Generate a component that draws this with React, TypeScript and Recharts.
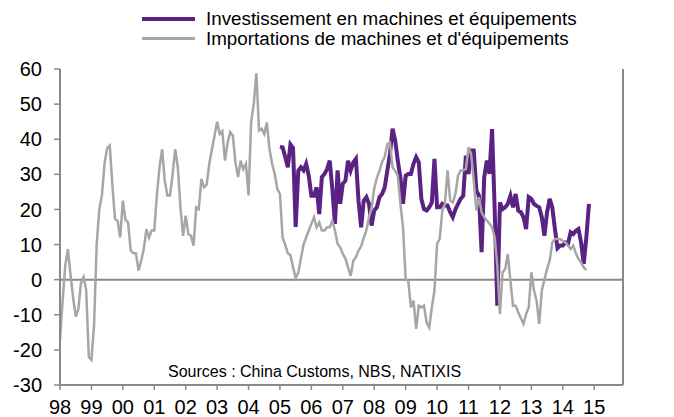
import { LineChart, Line, XAxis, YAxis, ReferenceLine } from 'recharts'

// monthly, starting Jan 1998
const importations = [
  -17, -6, 4, 8.7, 1.6, -5, -10.5, -8.5, -1, 0.7, -3, -22,
  -22.8, -13, 10, 20, 24, 33, 37.5, 38.2, 27, 17.3, 16.8, 12,
  22.5, 17, 16.3, 8.3, 7.5, 7.5, 2.6, 5.4, 8.7, 14.4, 12, 14,
  14, 24, 32, 37.2, 28.2, 24, 24, 30, 37.2, 32, 20.6, 12.5,
  18.2, 13, 12.5, 9.7, 20.6, 20.1, 28.7, 26.3, 27, 33, 37, 41,
  45, 41.5, 42.3, 33.9, 39, 42, 41, 33.4, 29.2, 33.9, 31.5, 33,
  24, 45, 50, 58.8, 42.5, 43, 41.5, 44.8, 37.2, 33, 30.1, 25.8,
  24.4, 12, 10, 7.5, 7, 3.5, 0.5, 2, 6, 10, 12, 14,
  15.9, 17.8, 14.9, 16.3, 14, 14, 14.9, 14.9, 16.8, 14, 10.2, 9.2,
  7.3, 6, 3.5, 1.1, 5.4, 6.4, 8.3, 9.5, 12, 14, 17.8, 20.5,
  26, 29, 31, 33.5, 35, 38.6, 39.1, 32, 31, 29.6, 21.6, 14.9,
  0.2, -0.3, -7.9, -6, -14, -7.4, -7.9, -7.4, -12.2, -13.6, -7.9, -3.1,
  10.2, 11.6, 19.7, 21.6, 31.1, 22.5, 22, 24.4, 29.6, 31.1, 31.1, 31.5,
  37.7, 35.8, 28.2, 19.7, 23.5, 19.2, 17.8, 16.8, 16, 14.9, 12, 4,
  -9.8, 2.1, 3, 7.3, -0.3, -7.4, -7.4, -9.3, -11, -12.6, -9.8, -7.9,
  2.1, -3.1, -6, -12.6, -3.1, 0, 3, 5.4, 10.6, 11.6, 11.6, 11.6,
  11, 10.6, 9.7, 8.7, 9.7, 7.5, 5.9, 4.9, 3.5, 2.8,
]

// monthly, starting Jan 2005
const investStart = 84
const investissement = [
  37.9, 37.7, 35, 32, 38.5, 37.5, 15, 31, 32, 31.1, 33, 29.6,
  23.9, 23.9, 26.3, 18.7, 29.2, 30.1, 31.5, 33.9, 25.8, 15.9, 31.1, 21.6,
  27.3, 28.2, 33.9, 31.1, 33.4, 34.4, 22.5, 14.9, 22.5, 23.5, 21.6, 15.4,
  19.7, 20.6, 23.5, 24.4, 26.3, 31.1, 35.8, 43, 39.6, 33.9, 29, 21.6,
  29.6, 30.1, 30.1, 33, 34.9, 33.4, 23, 20.1, 19.7, 20.6, 22, 34.4,
  20.6, 20.6, 21.6, 21.1, 21.1, 19.2, 17.8, 20, 21.6, 23, 23.9, 35.3,
  30.1, 36.8, 36.8, 25.4, 23.9, 7.8, 29.2, 33.9, 30.1, 42.9, 20, -7.4,
  22, 20.1, 20.6, 21.6, 23.9, 20.6, 24.4, 19.7, 19.2, 17.8, 14.4, 23.5,
  23, 21.6, 21, 20.6, 17.8, 12.5, 19.2, 23, 20.6, 14.4, 9, 9.7,
  9.7, 10.6, 10.2, 13.5, 13, 13.9, 14.4, 10.6, 4.5, 12, 21.6,
]

const yearLabels = ['98', '99', '00', '01', '02', '03', '04', '05', '06', '07', '08', '09', '10', '11', '12', '13', '14', '15']
const yTicks = [-30, -20, -10, 0, 10, 20, 30, 40, 50, 60]

const PURPLE = '#5a2282'
const GREY = '#a6a6a6'
const AXIS = '#898989'
const FONT = '"Liberation Sans", Arial, sans-serif'

const nMonths = Math.max(importations.length, investStart + investissement.length)
const data = Array.from({ length: nMonths }, (_, m) => ({
  m,
  imp: importations[m],
  inv: m >= investStart ? investissement[m - investStart] : undefined,
}))

const xTicks = yearLabels.map((_, i) => i * 12)
const tickStyle = { fill: '#000', fontSize: 20, fontFamily: FONT }

export default function App() {
  return (
    <div style={{ position: 'absolute', left: 0, top: 0, width: 674, height: 417, background: '#fff' }}>
      <LineChart width={674} height={417} data={data} margin={{ top: 69, right: 0, bottom: 0, left: 0 }}>
        <XAxis
          dataKey="m"
          type="number"
          domain={[0, 215]}
          ticks={xTicks}
          tickFormatter={(v) => yearLabels[v / 12]}
          height={32}
          tickSize={5}
          tickMargin={10}
          axisLine={{ stroke: AXIS, strokeWidth: 2 }}
          tickLine={{ stroke: AXIS, strokeWidth: 1.5 }}
          tick={tickStyle}
          interval={0}
        />
        <YAxis
          yAxisId="l"
          width={60}
          domain={[-30, 60]}
          ticks={yTicks}
          tickSize={6}
          tickMargin={12}
          axisLine={{ stroke: AXIS, strokeWidth: 2 }}
          tickLine={{ stroke: AXIS, strokeWidth: 1.5 }}
          tick={tickStyle}
          interval={0}
        />
        <YAxis
          yAxisId="r"
          orientation="right"
          width={51}
          domain={[-30, 60]}
          ticks={yTicks}
          tickSize={6}
          tickMargin={13}
          axisLine={{ stroke: AXIS, strokeWidth: 2 }}
          tickLine={{ stroke: AXIS, strokeWidth: 1.5 }}
          tick={{ ...tickStyle, textAnchor: 'start' }}
          interval={0}
        />
        <ReferenceLine yAxisId="l" y={0} stroke={AXIS} strokeWidth={2} />
        <Line
          yAxisId="l"
          dataKey="inv"
          stroke={PURPLE}
          strokeWidth={4}
          dot={false}
          type="linear"
          isAnimationActive={false}
        />
        <Line
          yAxisId="l"
          dataKey="imp"
          stroke={GREY}
          strokeWidth={2.5}
          dot={false}
          type="linear"
          isAnimationActive={false}
        />
      </LineChart>
      <svg width={674} height={417} style={{ position: 'absolute', left: 0, top: 0, pointerEvents: 'none' }}>
        <line x1={142} x2={195} y1={19} y2={19} stroke={PURPLE} strokeWidth={4} />
        <line x1={142} x2={195} y1={38.5} y2={38.5} stroke={GREY} strokeWidth={3} />
        <text x={206} y={25} fontSize={18.8} fontFamily={FONT} fill="#000">
          Investissement en machines et équipements
        </text>
        <text x={206} y={45} fontSize={18.8} fontFamily={FONT} fill="#000">
          Importations de machines et d'équipements
        </text>
        <text x={168} y={377} fontSize={16} fontFamily={FONT} fill="#000">
          Sources : China Customs, NBS, NATIXIS
        </text>
      </svg>
    </div>
  )
}
